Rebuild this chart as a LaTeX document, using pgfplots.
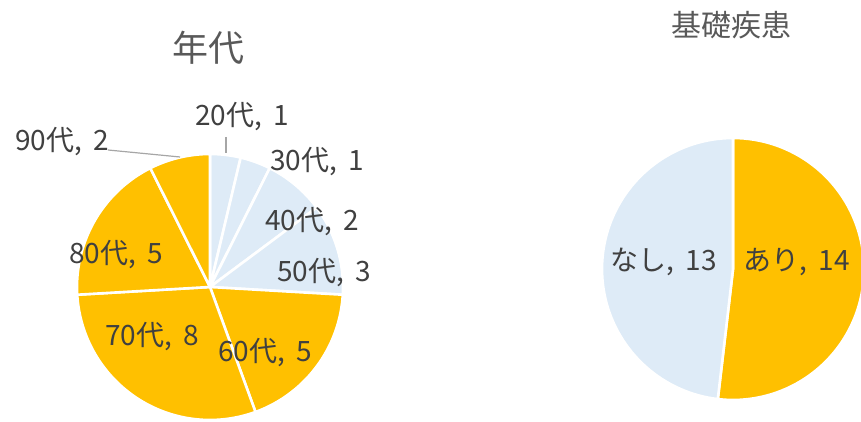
\documentclass[border=0pt]{standalone}
\usepackage{pgfplots}
\pgfplotsset{compat=1.18}
\usepackage{fontspec}
\setmainfont{Noto Sans CJK JP}
\definecolor{lblue}{HTML}{DEEBF7}
\definecolor{gold}{HTML}{FFC000}
\definecolor{txt}{HTML}{404040}
\definecolor{ttl}{HTML}{595959}
\definecolor{lead}{HTML}{A6A6A6}
\newcommand{\cs}{,\hspace{0.4em}}
% Left pie: 年代, counts 20代..90代 = 1,1,2,3,5,8,5,2 (total 27)
% cumulative bounds 0,1,2,4,7,12,20,25,27
% Right pie: 基礎疾患, あり 14, なし 13
\begin{document}
\begin{tikzpicture}
\path (0,0) rectangle (861pt,422pt);
\begin{axis}[
  at={(0,0)}, anchor=south west,
  width=861pt, height=422pt, scale only axis,
  xmin=0, xmax=861, ymin=0, ymax=422,
  hide axis, clip=true,
  samples=80,
  every axis plot/.append style={draw=white, line width=2.6pt, line join=round},
]
% ---- left pie, centre (210,135), r=133, total 27, clockwise from top
\addplot[fill=lblue, domain=0:1]  ({210+133*sin(360*x/27)},{135+133*cos(360*x/27)}) -- (axis cs:210,135) -- cycle;
\addplot[fill=lblue, domain=1:2]  ({210+133*sin(360*x/27)},{135+133*cos(360*x/27)}) -- (axis cs:210,135) -- cycle;
\addplot[fill=lblue, domain=2:4]  ({210+133*sin(360*x/27)},{135+133*cos(360*x/27)}) -- (axis cs:210,135) -- cycle;
\addplot[fill=lblue, domain=4:7]  ({210+133*sin(360*x/27)},{135+133*cos(360*x/27)}) -- (axis cs:210,135) -- cycle;
\addplot[fill=gold, domain=7:12]  ({210+133*sin(360*x/27)},{135+133*cos(360*x/27)}) -- (axis cs:210,135) -- cycle;
\addplot[fill=gold, domain=12:20] ({210+133*sin(360*x/27)},{135+133*cos(360*x/27)}) -- (axis cs:210,135) -- cycle;
\addplot[fill=gold, domain=20:25] ({210+133*sin(360*x/27)},{135+133*cos(360*x/27)}) -- (axis cs:210,135) -- cycle;
\addplot[fill=gold, domain=25:27] ({210+133*sin(360*x/27)},{135+133*cos(360*x/27)}) -- (axis cs:210,135) -- cycle;
% ---- right pie, centre (733,153), r=131, total 27
\addplot[fill=gold, domain=0:14]   ({733+131*sin(360*x/27)},{153+131*cos(360*x/27)}) -- (axis cs:733,153) -- cycle;
\addplot[fill=lblue, domain=14:27] ({733+131*sin(360*x/27)},{153+131*cos(360*x/27)}) -- (axis cs:733,153) -- cycle;
% leader lines
\draw[lead, line width=1.2pt] (axis cs:226,285) -- (axis cs:226,269);
\draw[lead, line width=1.2pt] (axis cs:108,272) -- (axis cs:180,265);
% labels
\begin{scope}[every node/.style={text=txt, font=\fontsize{28}{30}\selectfont, inner sep=0pt}]
\node at (axis cs:242,305) {20代\cs 1};
\node at (axis cs:317,260) {30代\cs 1};
\node at (axis cs:312,200) {40代\cs 2};
\node at (axis cs:324,149) {50代\cs 3};
\node at (axis cs:265,69)  {60代\cs 5};
\node at (axis cs:152,85)  {70代\cs 8};
\node at (axis cs:116,167) {80代\cs 5};
\node at (axis cs:62,280)  {90代\cs 2};
\node at (axis cs:664,160) {なし\cs 13};
\node at (axis cs:797,160) {あり\cs 14};
\end{scope}
\node[text=ttl, font=\fontsize{36}{40}\selectfont, inner sep=0pt] at (axis cs:208,374) {年代};
\node[text=ttl, font=\fontsize{30}{32}\selectfont, inner sep=0pt] at (axis cs:731,397) {基礎疾患};
\end{axis}
\end{tikzpicture}
\end{document}
